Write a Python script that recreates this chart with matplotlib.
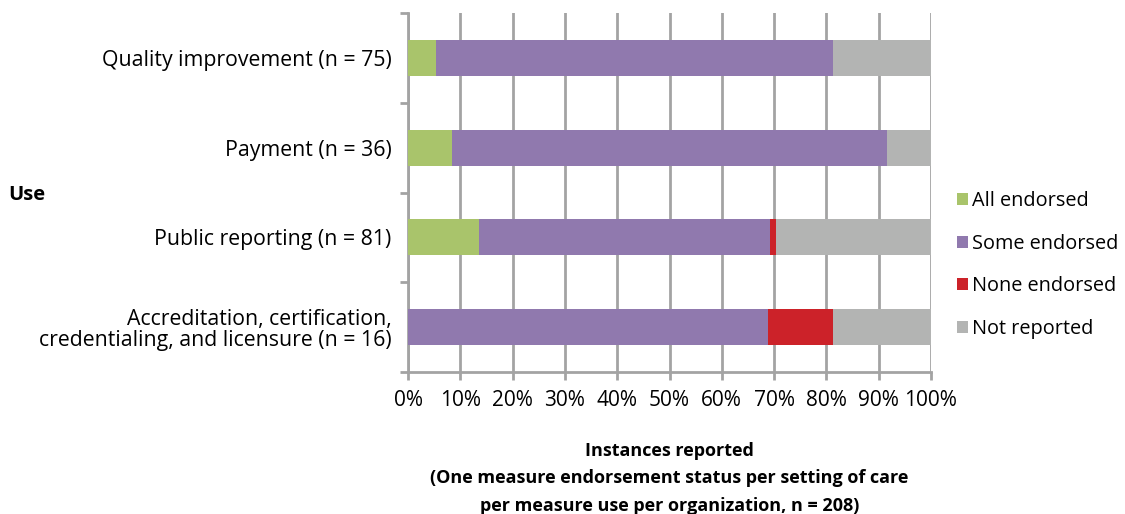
import matplotlib.pyplot as plt
import numpy as np

plt.rcParams['font.family'] = ['Open Sans', 'DejaVu Sans']

# Measure uses, top to bottom, with the number of instances reported per status
uses = [
    "Quality improvement (n = 75)",
    "Payment (n = 36)",
    "Public reporting (n = 81)",
    "Accreditation, certification,\ncredentialing, and licensure (n = 16)",
]
totals = np.array([75, 36, 81, 16])
all_endorsed = np.array([4, 3, 11, 0])
some_endorsed = np.array([57, 30, 45, 11])
none_endorsed = np.array([0, 0, 1, 2])
not_reported = totals - all_endorsed - some_endorsed - none_endorsed

series = [
    ("All endorsed", all_endorsed, "#a9c46b"),
    ("Some endorsed", some_endorsed, "#9079ae"),
    ("None endorsed", none_endorsed, "#cc2229"),
    ("Not reported", not_reported, "#b3b4b3"),
]
x_ticks = np.arange(0, 101, 10)

grid_col = "#a3a3a3"

fig = plt.figure(figsize=(11.25, 5.14), dpi=100)
ax = fig.add_axes([408 / 1125, 1 - 372 / 514, 523 / 1125, 359 / 514])

y = np.arange(len(uses))[::-1]
left = np.zeros(len(uses))
for label, counts, color in series:
    pct = counts / totals * 100
    ax.barh(y, pct, left=left, height=0.4, color=color, label=label, zorder=3)
    left += pct

ax.set_xlim(0, 100)
ax.set_ylim(-0.5, len(uses) - 0.5)
ax.set_xticks(x_ticks)
ax.set_xticklabels([f"{v}%" for v in x_ticks], fontsize=15)
ax.xaxis.grid(True, color=grid_col, linewidth=2, zorder=0)

# category boundaries get the tick marks, labels sit at bar centres
ax.set_yticks(np.arange(-0.5, len(uses), 1.0))
ax.set_yticklabels([])
ax.set_yticks(y, minor=True)
ax.set_yticklabels(uses, minor=True, fontsize=15.3, ha="right", linespacing=1.05)
ax.tick_params(axis="y", which="minor", length=0, pad=12)
ax.tick_params(axis="both", which="major", length=6, width=2, color=grid_col)
ax.tick_params(axis="x", pad=7)

for side in ("top", "right"):
    ax.spines[side].set_visible(False)
for side in ("left", "bottom"):
    ax.spines[side].set_color(grid_col)
    ax.spines[side].set_linewidth(2)

ax.set_xlabel(
    "Instances reported\n(One measure endorsement status per setting of care\n"
    "per measure use per organization, n = 208)",
    fontsize=13, fontweight="bold", labelpad=22, linespacing=1.68,
)
fig.text(8 / 1125, 1 - 195 / 514, "Use", fontsize=14.5, fontweight="bold", va="center")

fig.legend(
    *ax.get_legend_handles_labels(),
    loc="center left", bbox_to_anchor=(957 / 1125, 1 - 265 / 514),
    bbox_transform=fig.transFigure, frameon=False,
    fontsize=14.3, handlelength=0.55, handleheight=0.55, handletextpad=0.2,
    labelspacing=1.15, borderpad=0, borderaxespad=0,
)

fig.savefig("out.png", dpi=100)
